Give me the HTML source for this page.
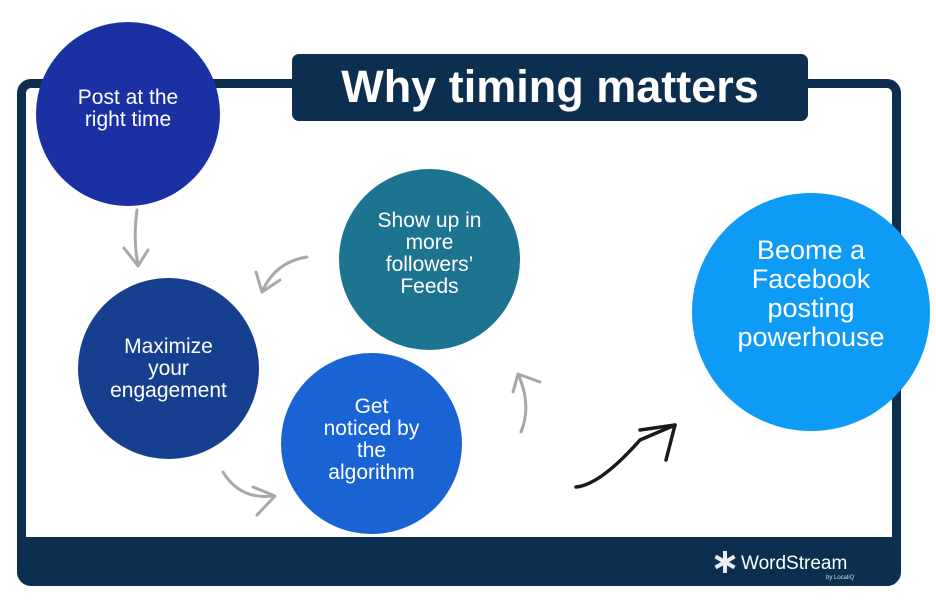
<!DOCTYPE html>
<html><head><style>
body{margin:0;width:936px;height:600px;background:#fff;position:relative;overflow:hidden;font-family:"Liberation Sans",sans-serif}
.frame{position:absolute;left:17px;top:79px;width:866px;height:489px;border:9px solid #0d2f4f;border-radius:14px}
.band{position:absolute;left:17px;top:537px;width:884px;height:48px;background:#0d2f4f;border-radius:0 0 14px 14px}
.title{position:absolute;left:292px;top:54px;width:516px;height:67px;background:#0d2f4f;border-radius:7px;color:#fff;font-weight:bold;font-size:45px;text-align:center;line-height:66px;letter-spacing:0px}
.c{position:absolute;border-radius:50%;color:#fff;display:flex;align-items:center;justify-content:center;text-align:center;font-size:21px;line-height:22px}
svg{position:absolute;left:0;top:0}
</style></head><body>
<div class="frame"></div>
<div class="band"></div>
<div class="title">Why timing matters</div>
<div class="c" style="left:36px;top:22px;width:184px;height:184px;background:#1b31a3;"><div style="margin-bottom:10px">Post at the<br>right time</div></div>
<div class="c" style="left:78px;top:278px;width:181px;height:181px;background:#163f8f;">Maximize<br>your<br>engagement</div>
<div class="c" style="left:339px;top:169px;width:181px;height:181px;background:#1d7490;"><div style="margin-bottom:12px">Show up in<br>more<br>followers’<br>Feeds</div></div>
<div class="c" style="left:281px;top:353px;width:181px;height:181px;background:#1a63d4;"><div style="margin-bottom:8px">Get<br>noticed by<br>the<br>algorithm</div></div>
<div class="c" style="left:692px;top:193px;width:238px;height:238px;background:#0e9bf5;font-size:27px;line-height:29px"><div style="margin-bottom:36px">Beome a<br>Facebook<br>posting<br>powerhouse</div></div>
<svg width="936" height="600" fill="none" stroke-linecap="round" stroke-linejoin="round">
<g stroke="#a8a8a8" stroke-width="3">
<path d="M137 210 Q133 240 138 265"/><path d="M124 248 L138 266 L148 250"/>
<path d="M307 257 Q275 262 262 292"/><path d="M256 272 L262 292 L280 280"/>
<path d="M223 472 Q240 500 273 496"/><path d="M253 487 L275 496 L257 515"/>
<path d="M521 432 Q532 405 518 374"/><path d="M513 392 L518 374 L540 382"/>
</g>
<g stroke="#1a1a1a" stroke-width="3.5">
<path d="M576 487 Q600 485 640 440 L675 425"/><path d="M640 430 L675 425 L666 460"/>
</g>
<g fill="#e8eef2" stroke="none" transform="translate(725,562)">
<rect x="-2" y="-11" width="4" height="22"/><rect x="-2" y="-11" width="4" height="22" transform="rotate(60)"/><rect x="-2" y="-11" width="4" height="22" transform="rotate(-60)"/>
</g>
<text x="741" y="569" fill="#fff" font-family="Liberation Sans,sans-serif" font-size="19">WordStream</text>
<text x="826" y="579" fill="#cfd8e0" font-family="Liberation Sans,sans-serif" font-size="6">by LocaliQ</text>
</svg>
</body></html>
